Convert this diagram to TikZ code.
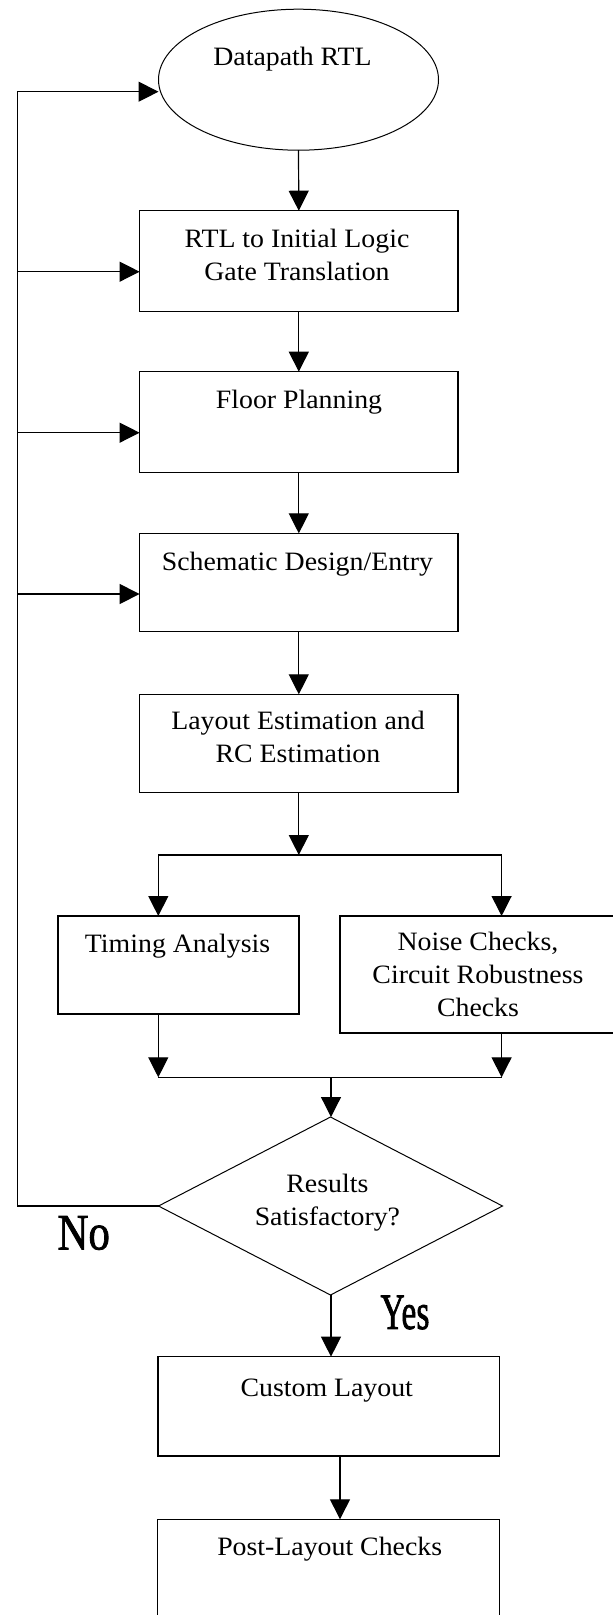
\documentclass[tikz,border=0pt]{standalone}
\usepackage{fontspec}
\setmainfont{Liberation Serif}[FakeStretch=1.05]
\newfontfamily\tagfont{Liberation Serif}[FakeBold=1.6]
\usetikzlibrary{shapes.geometric,arrows.meta}
\begin{document}
\begin{tikzpicture}[x=1pt,y=-1pt,
  every node/.style={inner sep=0pt,outer sep=0pt},
  box/.style={draw,line width=1.3pt,rectangle},
  oval/.style={draw,line width=1pt,ellipse},
  choice/.style={draw,line width=1pt,diamond},
  txt/.style={font=\fontsize{26.5}{33}\selectfont,align=center,anchor=north},
  tag/.style={font=\tagfont\fontsize{51}{51}\selectfont},
  wire/.style={line width=1.2pt},
  arr/.style={line width=1.2pt,-{Triangle[length=20pt,width=20pt]}}]

% page
\fill[white] (0,0) rectangle (613,1615);
\useasboundingbox (0,0) rectangle (613,1615);

% shapes
\node[oval,minimum width=280pt,minimum height=141pt] (rtl) at (298.5,79.7) {};
\node[box,minimum width=318.4pt,minimum height=101pt] (gate) at (298.8,261.2) {};
\node[box,minimum width=318.4pt,minimum height=100.6pt] (floor) at (298.8,422) {};
\node[box,minimum width=318.4pt,minimum height=98.4pt] (schem) at (298.8,582.5) {};
\node[box,minimum width=318.4pt,minimum height=98.4pt] (layest) at (298.8,743.5) {};
\node[box,minimum width=241pt,minimum height=98pt] (timing) at (178.5,965) {};
\node[box,minimum width=276pt,minimum height=117pt] (noise) at (478,974.5) {};
\node[choice,minimum width=344pt,minimum height=178pt] (decide) at (330.5,1206) {};
\node[box,minimum width=341.6pt,minimum height=99.3pt] (custom) at (328.8,1406.3) {};
\node[box,minimum width=341.6pt,minimum height=111pt] (post) at (328.5,1574.8) {};

% texts
\node[txt] (rtl-t) at (292.5,41.9) {\strut Datapath RTL};
\node[txt] (gate-t) at (297,223.9) {\strut RTL to Initial Logic\\\strut Gate Translation};
\node[txt] (floor-t) at (299,384.9) {\strut Floor Planning};
\node[txt] (schem-t) at (297.5,546.9) {\strut Schematic Design/Entry};
\node[txt] (layest-t) at (298,705.9) {\strut Layout Estimation and\\\strut RC Estimation};
\node[txt] (timing-t) at (177.6,928.9) {\strut Timing Analysis};
\node[txt] (noise-t) at (478,926.9) {\strut Noise Checks,\\\strut Circuit Robustness\\\strut Checks};
\node[txt] (decide-t) at (327.4,1168.9) {\strut Results\\\strut Satisfactory?};
\node[txt] (custom-t) at (326.8,1372.9) {\strut Custom Layout};
\node[txt] (post-t) at (329.7,1531.9) {\strut Post-Layout Checks};

% branch labels
\node[tag] (no) at (83.7,1233) {\scalebox{0.84}[1]{No}};
\node[tag] (yes) at (405,1312.5) {\scalebox{0.66}[1]{Yes}};

% main flow
\draw[arr] (rtl.south) -- (gate.north);
\draw[arr] (gate.south) -- (floor.north);
\draw[arr] (floor.south) -- (schem.north);
\draw[arr] (schem.south) -- (layest.north);

% split into the two checks
\coordinate (splitL) at (158.3,855);
\coordinate (splitR) at (501.6,855);
\draw[arr] (layest.south) -- (layest.south |- splitL);
\draw[wire] (splitL) -- (splitR);
\draw[arr] (splitL) -- (splitL |- timing.north);
\draw[arr] (splitR) -- (splitR |- noise.north);

% merge into the decision
\coordinate (mergeL) at (158.3,1077.3);
\coordinate (mergeR) at (501.6,1077.3);
\coordinate (mergeM) at (331,1077.3);
\draw[arr] (mergeL |- timing.south) -- (mergeL);
\draw[arr] (mergeR |- noise.south) -- (mergeR);
\draw[wire] (mergeL) -- (mergeR);
\draw[arr] (mergeM) -- (mergeM |- decide.north);

% yes path
\draw[arr] (mergeM |- decide.south) -- (mergeM |- custom.north);
\coordinate (cp) at (340,1456);
\draw[arr] (cp |- custom.south) -- (cp |- post.north);

% no path: feedback loop
\coordinate (fbtop) at (17.3,91.7);
\coordinate (fb1) at (17.3,271.7);
\coordinate (fb2) at (17.3,432.7);
\coordinate (fb3) at (17.3,594);
\draw[wire] (decide.west) -| (fbtop);
\draw[arr] (fbtop) -- (fbtop -| rtl.west);
\draw[arr] (fb1) -- (fb1 -| gate.west);
\draw[arr] (fb2) -- (fb2 -| floor.west);
\draw[arr] (fb3) -- (fb3 -| schem.west);
\end{tikzpicture}
\end{document}
